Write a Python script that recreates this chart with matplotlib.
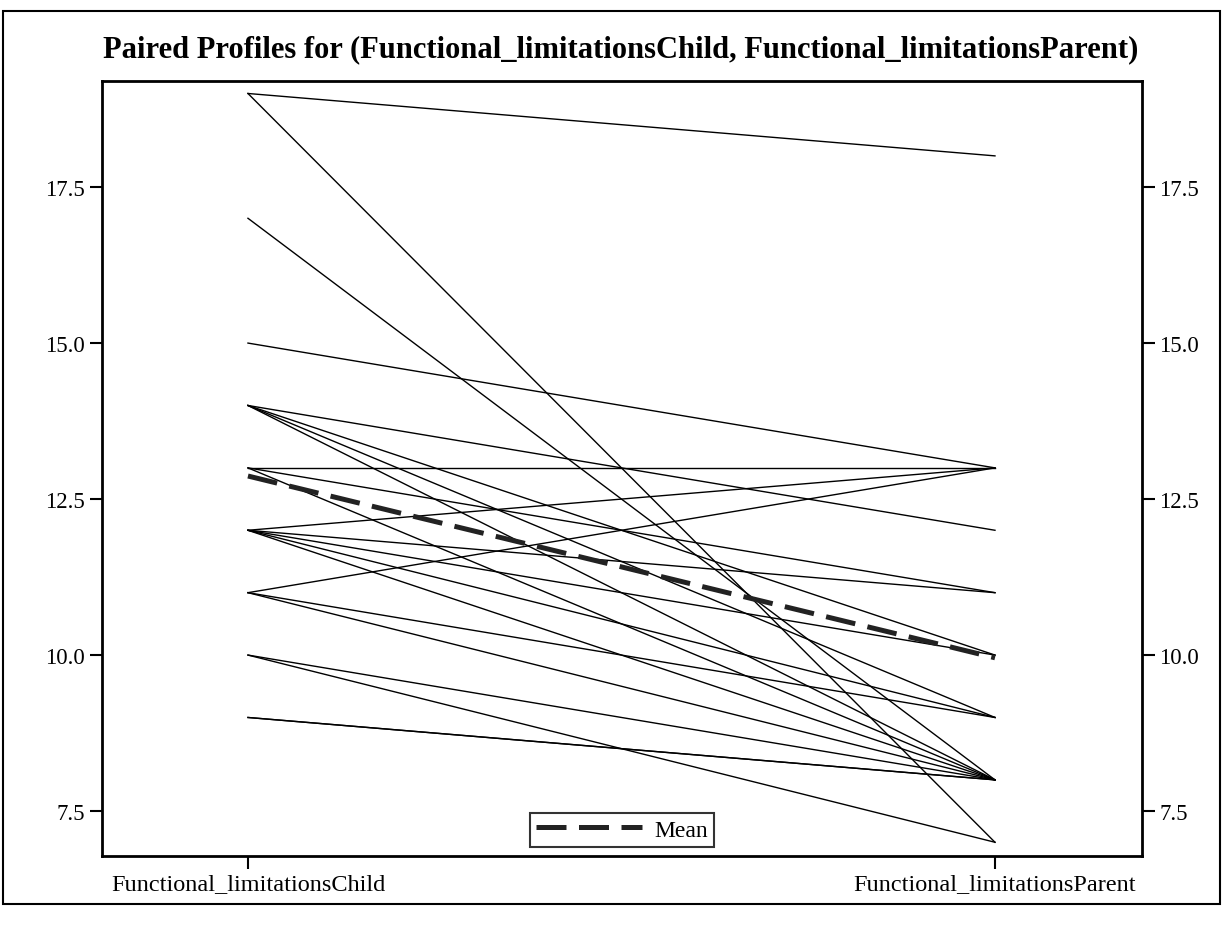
import numpy as np
import matplotlib.pyplot as plt
from matplotlib.patches import Rectangle

# paired scores (child -> parent)
child = [19, 19, 17, 15, 14, 14, 14, 14, 13, 13, 13, 12, 12, 12, 12, 12,
         11, 11, 11, 10, 10, 9, 9]
parent = [18, 7, 8, 13, 12, 10, 9, 8, 13, 11, 8, 13, 11, 10, 9, 8,
          13, 9, 8, 8, 7, 8, 8]
labels = ['Functional_limitationsChild', 'Functional_limitationsParent']
yticks = [7.5, 10.0, 12.5, 15.0, 17.5]

plt.rcParams['font.family'] = ['Liberation Serif', 'DejaVu Serif']

fig = plt.figure(figsize=(12.23, 9.28), dpi=100)
W, H = 1223, 928
ax = fig.add_axes([102 / W, 1 - 857 / H, (1142 - 102) / W, (857 - 82) / H])

for c, p in zip(child, parent):
    ax.plot([0, 1], [c, p], color='black', lw=1.0)

mean_c = np.mean(child)
mean_p = np.mean(parent)
ax.plot([0, 1], [mean_c, mean_p], color='#222222', lw=3.6,
        dashes=(6, 2.5), label='Mean')

ax.set_xlim(-0.1954, 1.1968)
ax.set_ylim(6.78, 19.2)
ax.set_xticks([0, 1])
ax.set_xticklabels(labels, fontsize=17.5)
ax.set_yticks(yticks)
ax.set_yticklabels(['%.1f' % v for v in yticks], fontsize=16.5)
ax.tick_params(axis='both', direction='out', length=9, width=1.5, colors='black')
ax.tick_params(axis='y', right=True, labelright=True)
ax.tick_params(axis='x', pad=3)
for s in ax.spines.values():
    s.set_linewidth(2.0)

leg = ax.legend(loc='lower center', fontsize=17, frameon=True, fancybox=False,
                handlelength=4.5, borderpad=0.25, borderaxespad=0.4,
                handletextpad=0.5)
leg.get_frame().set_edgecolor('black')
leg.get_frame().set_linewidth(1.5)

fig.text(621 / W, 1 - 50 / H,
         'Paired Profiles for (Functional_limitationsChild, Functional_limitationsParent)',
         ha='center', va='center', fontsize=22, fontweight='bold')

# outer frame around the whole chart
fig.patches.append(Rectangle((3 / W, 1 - 905 / H), (1220 - 3) / W, (905 - 12) / H,
                             transform=fig.transFigure, fill=False,
                             edgecolor='black', lw=1.5))

fig.savefig('out.png', dpi=100)
